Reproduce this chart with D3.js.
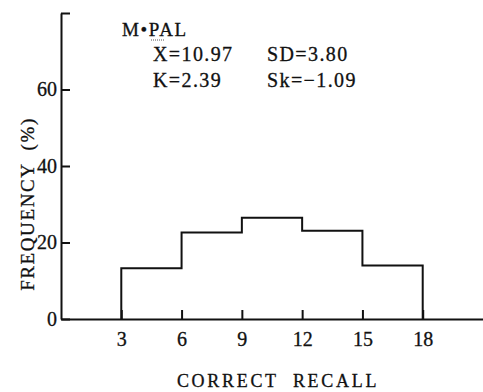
<!DOCTYPE html>
<html>
<head>
<meta charset="utf-8">
<script src="https://cdn.jsdelivr.net/npm/d3@7"></script>
<style>
  body { margin: 0; background: #fff; }
</style>
</head>
<body>
<div id="chart"></div>
<script>
// histogram of correct recall scores
const binEdges = [3, 6, 9, 12, 15, 18]
const freq = [13.3, 22.6, 26.5, 23.1, 14.0]
const xTicks = [3, 6, 9, 12, 15, 18]
const yTicks = [0, 20, 40, 60, 80]
const statLines = [["X=10.97", "SD=3.80"], ["K=2.39", "Sk=\u22121.09"]]

const serif = "'Liberation Serif', 'Times New Roman', 'DejaVu Serif', serif"

const W = 483, H = 392
const margin = {top: 13, right: 0, bottom: 73, left: 61}
const w = W - margin.left - margin.right,
      h = H - margin.top - margin.bottom

const svg = d3.select("#chart")
    .append("svg")
    .attr("width", W)
    .attr("height", H)

const g = svg.append("g")
    .attr("transform", `translate(${margin.left},${margin.top})`)

const xScale = d3.scaleLinear().domain([0, 21]).range([0, w])
const yScale = d3.scaleLinear().domain([0, 80]).range([h, 0])

const xAxis = d3.axisBottom(xScale)
    .tickValues(xTicks)
    .tickSize(-9)
    .tickSizeOuter(0)
    .tickPadding(13)

const yAxis = d3.axisLeft(yScale)
    .tickValues(yTicks)
    .tickSize(-9)
    .tickSizeOuter(0)
    .tickPadding(4)
    .tickFormat(d => d === 80 ? "" : d)

const xg = g.append("g")
    .attr("transform", `translate(0,${h})`)
    .call(xAxis)
const yg = g.append("g").call(yAxis)

;[xg, yg].forEach(a => {
    a.attr("font-family", serif).attr("font-size", 20)
    a.selectAll("path, line").attr("stroke", "#111").attr("stroke-width", 2)
    a.selectAll("text").attr("fill", "#111")
        .attr("stroke", "#111").attr("stroke-width", 0.3)
})

// step outline of the histogram
const pts = [[binEdges[0], 0]]
freq.forEach((f, i) => {
    pts.push([binEdges[i], f])
    pts.push([binEdges[i + 1], f])
})
pts.push([binEdges[binEdges.length - 1], 0])

g.append("path")
    .datum(pts)
    .attr("fill", "none")
    .attr("stroke", "#111")
    .attr("stroke-width", 2)
    .attr("d", d3.line().x(d => xScale(d[0])).y(d => yScale(d[1])))

function label(x, y, size, spacing, str) {
    return svg.append("text")
        .attr("x", x)
        .attr("y", y)
        .attr("fill", "#111")
        .attr("stroke", "#111")
        .attr("stroke-width", 0.3)
        .attr("font-family", serif)
        .attr("font-size", size)
        .style("letter-spacing", spacing + "px")
        .style("white-space", "pre")
        .text(str)
}

// axis titles
label(278, 387, 18, 2.7, "CORRECT  RECALL").attr("text-anchor", "middle")
label(0, 0, 19, 1.6, "FREQUENCY  (%)")
    .attr("transform", "translate(34,204) rotate(-90)")
    .attr("text-anchor", "middle")

// annotation
label(122, 36, 19, 1.6, "M\u2022PAL")
svg.append("line")
    .attr("x1", 151).attr("x2", 164)
    .attr("y1", 40).attr("y2", 40)
    .attr("stroke", "#555").attr("stroke-width", 1)
    .attr("stroke-dasharray", "1,1")

statLines.forEach((row, i) => {
    row.forEach((s, j) => {
        label(j === 0 ? 153 : 267, 61 + i * 26, 20, 1.4, s)
    })
})
</script>
</body>
</html>
